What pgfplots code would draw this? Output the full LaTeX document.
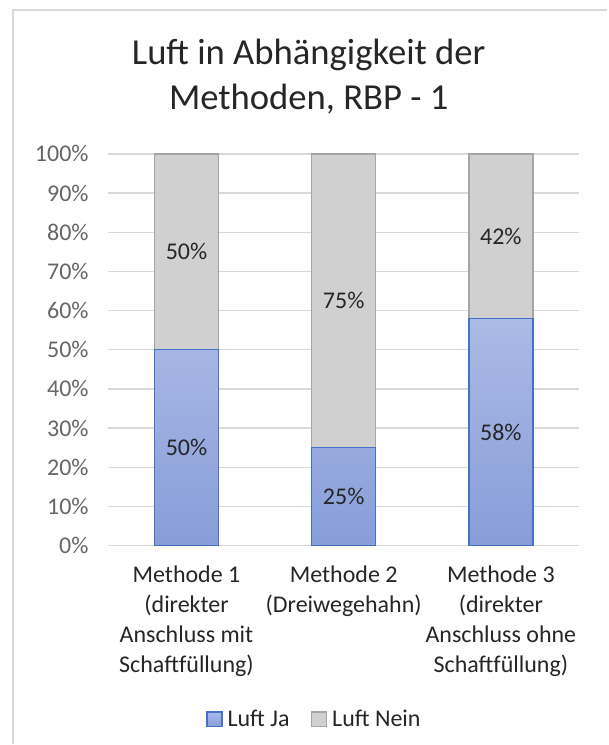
\documentclass[border=0pt]{standalone}
\usepackage{pgfplots}
\pgfplotsset{compat=1.18}
\usepackage{fontspec}
\setmainfont{Carlito}
\definecolor{blauhell}{HTML}{ABBAE6}
\definecolor{blaudunkel}{HTML}{889DD9}
\definecolor{blaurand}{HTML}{4472C4}
\definecolor{grau}{HTML}{D0D0D0}
\definecolor{graurand}{HTML}{A5A5A5}
\definecolor{gitter}{HTML}{D9D9D9}
\definecolor{achse}{HTML}{666666}
\definecolor{text}{HTML}{262626}

\begin{document}
\begin{tikzpicture}
\path[fill=white] (0,0) rectangle (456pt,-558.75pt);
\draw[gitter,line width=1pt] (9.75pt,-558.75pt) -- (9.75pt,-7.5pt) -- (456pt,-7.5pt);
\node[anchor=base,text=text,font=\fontsize{27.5}{33}\selectfont] at (231.75pt,-48.75pt) {Luft in Abhängigkeit der};
\node[anchor=base,text=text,font=\fontsize{27.5}{33}\selectfont] at (231.75pt,-82.5pt) {Methoden, RBP - 1};
\pgfplotsset{basis/.style={at={(81pt,-409.5pt)},anchor=south west,width=354pt,height=294pt,scale only axis,
 xmin=-0.5,xmax=2.5,ymin=0,ymax=100}}
% Balken
\begin{axis}[basis,ybar stacked,bar width=48pt,
 axis line style={draw=none},major tick length=0pt,
 ymajorgrids,major grid style={gitter,line width=1pt},
 ytick={0,10,...,100},yticklabel={\pgfmathprintnumber{\tick}\%},
 /pgf/number format/assume math mode=true,
 yticklabel style={font=\fontsize{18}{22}\selectfont,text=achse,xshift=-11pt},
 xtick={0,1,2},
 xticklabels={{Methode 1\\(direkter\\Anschluss mit\\Schaftfüllung)},{Methode 2\\(Dreiwegehahn)},{Methode 3\\(direkter\\Anschluss ohne\\Schaftfüllung)}},
 xticklabel style={font=\fontsize{18}{22.5}\selectfont,text=text,align=center,anchor=north,yshift=-12pt},
 legend columns=2,
 legend style={at={(0.4386,-0.4439)},anchor=center,draw=none,fill=none,font=\fontsize{18}{22}\selectfont,text=text,
  /tikz/every even column/.append style={column sep=14pt}},
 legend image code/.code={\draw[#1,line width=1pt] (0pt,-5.6pt) rectangle (11.25pt,5.6pt);\path[draw=none,fill=none] (0pt,0pt) -- (13.5pt,0pt);},
 ]
\addplot[top color=blauhell,bottom color=blaudunkel,draw=blaurand,line width=1pt] coordinates {(0,50) (1,25) (2,58)};
\addlegendentry{Luft Ja}
\addplot[fill=grau,draw=graurand,line width=1pt] coordinates {(0,50) (1,75) (2,42)};
\addlegendentry{Luft Nein}
\end{axis}
% Beschriftungen
\begin{axis}[basis,hide axis]
\addplot[draw=none,mark=none,nodes near coords,point meta=explicit symbolic,
 nodes near coords align={center},
 every node near coord/.append style={font=\fontsize{18}{22}\selectfont,text=text}]
 coordinates {(0,25) [50\%] (1,12.5) [25\%] (2,29) [58\%] (0,75) [50\%] (1,62.5) [75\%] (2,79) [42\%]};
\end{axis}
\end{tikzpicture}
\end{document}
